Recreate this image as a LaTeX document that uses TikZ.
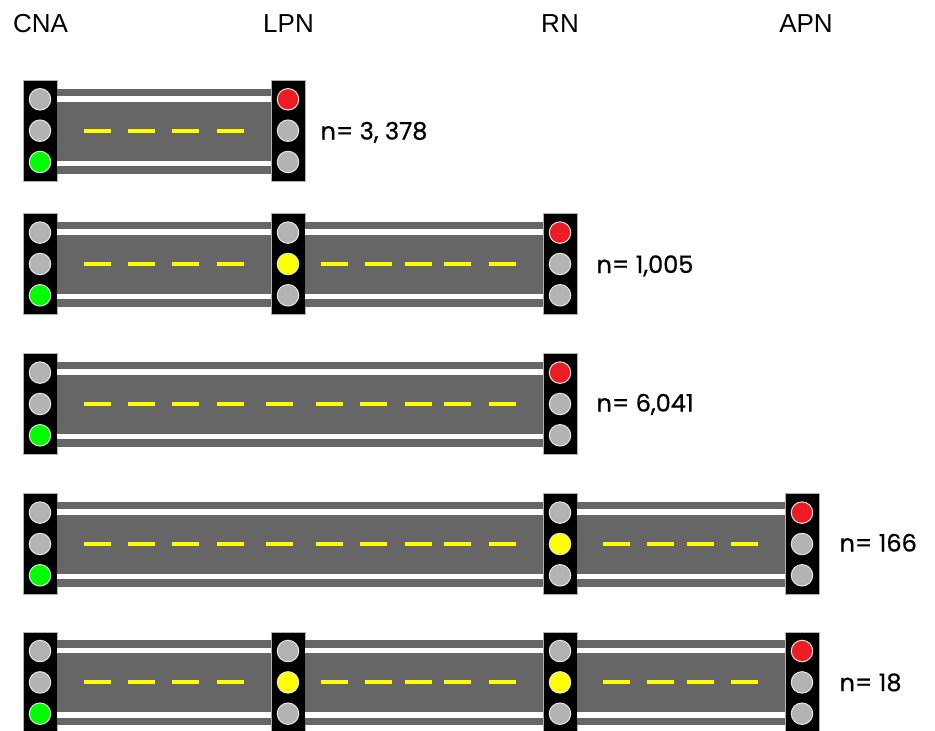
\documentclass[tikz,border=0pt]{standalone}
\usepackage{fontspec}
\setmainfont{Liberation Sans}
\newfontfamily\labfont[FakeBold=0.7]{Poppins}
\definecolor{roadgray}{HTML}{666666}
\definecolor{lampgray}{HTML}{B3B3B3}
\definecolor{lampred}{HTML}{ED1C24}
\definecolor{lampgreen}{HTML}{00FF00}
\definecolor{lampyellow}{HTML}{FFFF00}
\newcommand\tlight[6]{%
  \node[lightbox] (#1) at (#2,#3) {};
  \node[lamp=#4] (#1t) at ([yshift=31.7pt]#1.center) {};
  \node[lamp=#5] (#1m) at ([yshift=0.3pt]#1.center) {};
  \node[lamp=#6] (#1b) at ([yshift=-31pt]#1.center) {};
}
\newcommand\roadseg[3]{%
  \fill[roadgray] ([yshift=42.5pt]#1.east) rectangle ([yshift=-42.5pt]#2.west);
  \fill[white] ([yshift=35pt]#1.east) rectangle ([yshift=29.5pt]#2.west);
  \fill[white] ([yshift=-29.5pt]#1.east) rectangle ([yshift=-35pt]#2.west);
  \foreach \o in {#3}{\draw[yellowdash] ([xshift=\o pt,yshift=0.3pt]#1.east) -- ++(27,0);}
}
\begin{document}
\begin{tikzpicture}[x=1pt,y=-1pt,
  lightbox/.style={rectangle, fill=black, draw=black!30, line width=0.8pt,
    minimum width=34pt, minimum height=101pt, inner sep=0pt},
  lamp/.style={circle, fill=#1, draw=black!10, line width=1pt,
    minimum size=21.5pt, inner sep=0pt},
  yellowdash/.style={draw=lampyellow, line width=4pt},
  header/.style={font=\fontsize{26}{30}\selectfont, inner sep=0pt, anchor=base},
  lab/.style={font=\labfont\fontsize{24}{28}\selectfont, inner sep=0pt, anchor=base west}]
\useasboundingbox (0,0) rectangle (935,731);

% headers
\node[header] (hCNA) at (40.5,32) {CNA};
\node[header] (hLPN) at (288.5,32) {LPN};
\node[header] (hRN)  at (560,32) {RN};
\node[header] (hAPN) at (806,32) {APN};

% row 1
\tlight{a1}{40}{131}{lampgray}{lampgray}{lampgreen}
\tlight{b1}{288}{131}{lampred}{lampgray}{lampgray}
\roadseg{a1}{b1}{27,71,115,160}
\node[lab] (n1) at ([xshift=15pt]b1.east |- 0,139.5) {n= 3, 378};

% row 2
\tlight{a2}{40}{264.3}{lampgray}{lampgray}{lampgreen}
\tlight{b2}{288}{264.3}{lampgray}{lampyellow}{lampgray}
\tlight{c2}{560}{264.3}{lampred}{lampgray}{lampgray}
\roadseg{a2}{b2}{27,71,115,160}
\roadseg{b2}{c2}{16,60,100,139,184}
\node[lab] (n2) at ([xshift=19pt]c2.east |- 0,273) {n= 1,005};

% row 3
\tlight{a3}{40}{404.3}{lampgray}{lampgray}{lampgreen}
\tlight{c3}{560}{404.3}{lampred}{lampgray}{lampgray}
\roadseg{a3}{c3}{27,71,115,160,209,259,303,348,387,432}
\node[lab] (n3) at ([xshift=19pt]c3.east |- 0,411.5) {n= 6,041};

% row 4
\tlight{a4}{40}{544.3}{lampgray}{lampgray}{lampgreen}
\tlight{c4}{560}{544.3}{lampgray}{lampyellow}{lampgray}
\tlight{d4}{802}{544.3}{lampred}{lampgray}{lampgray}
\roadseg{a4}{c4}{27,71,115,160,209,259,303,348,387,432}
\roadseg{c4}{d4}{26,70,110,154}
\node[lab] (n4) at ([xshift=20pt]d4.east |- 0,551.5) {n= 166};

% row 5
\tlight{a5}{40}{682.7}{lampgray}{lampgray}{lampgreen}
\tlight{b5}{288}{682.7}{lampgray}{lampyellow}{lampgray}
\tlight{c5}{560}{682.7}{lampgray}{lampyellow}{lampgray}
\tlight{d5}{802}{682.7}{lampred}{lampgray}{lampgray}
\roadseg{a5}{b5}{27,71,115,160}
\roadseg{b5}{c5}{16,60,100,139,184}
\roadseg{c5}{d5}{26,70,110,154}
\node[lab] (n5) at ([xshift=20pt]d5.east |- 0,691) {n= 18};
\end{tikzpicture}
\end{document}
